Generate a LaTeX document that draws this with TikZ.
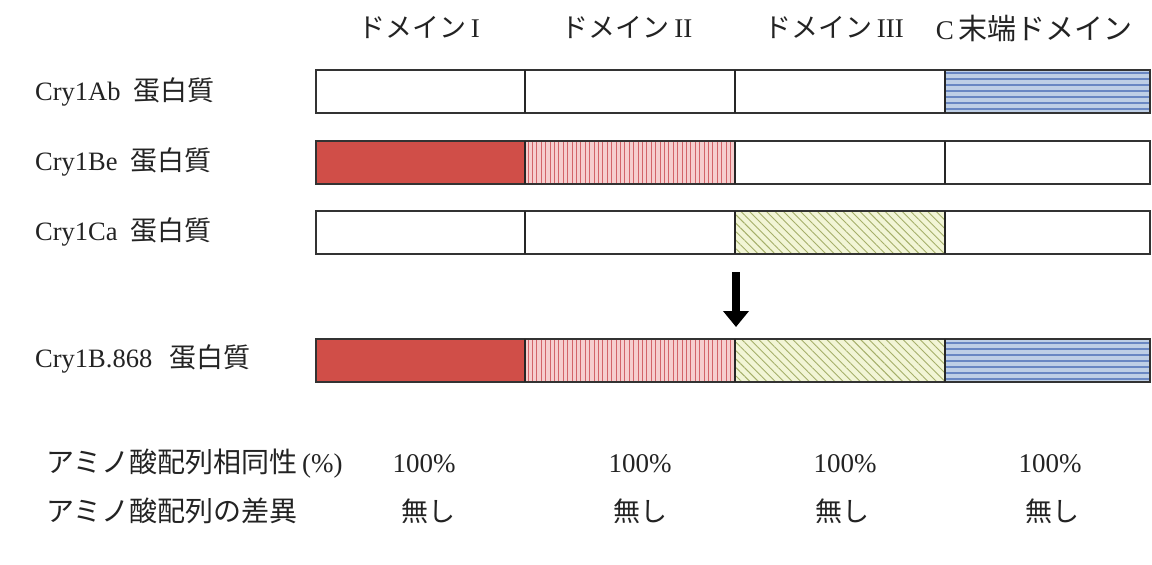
\documentclass[tikz,border=0pt]{standalone}
\usepackage{fontspec}
\setmainfont{Liberation Serif}
\newfontfamily\jp{Noto Sans CJK JP}
\usetikzlibrary{patterns.meta,arrows.meta}
\definecolor{redsolid}{RGB}{208,78,72}
\definecolor{pinkbg}{RGB}{246,206,206}
\definecolor{pinkline}{RGB}{210,100,105}
\definecolor{greenbg}{RGB}{242,245,214}
\definecolor{greenline}{RGB}{165,175,105}
\definecolor{bluebg}{RGB}{190,207,230}
\definecolor{blueline}{RGB}{105,135,195}
\definecolor{textc}{RGB}{35,35,35}
\newcommand{\jpl}[1]{{\fontsize{27}{30}\selectfont\jp #1}}
\begin{document}
\begin{tikzpicture}[x=1pt,y=-1pt,
  seg/.style={draw=black!80, line width=1.3pt, minimum width=#1, minimum height=43pt,
    inner sep=0pt, outer sep=0pt, anchor=north west},
  plain/.style={fill=white},
  solidred/.style={fill=redsolid},
  vlines/.style={preaction={fill=pinkbg}, pattern={Lines[angle=90,distance=4.4pt,line width=0.9pt]}, pattern color=pinkline},
  dlines/.style={preaction={fill=greenbg}, pattern={Lines[angle=-45,distance=6pt,line width=0.9pt]}, pattern color=greenline},
  hlines/.style={preaction={fill=bluebg}, pattern={Lines[angle=0,distance=6pt,line width=1.1pt]}, pattern color=blueline},
  divider/.style={draw=black!85, line width=2.4pt},
  head/.style={font=\fontsize{27}{30}\selectfont, text=textc, inner sep=0pt},
  rowlab/.style={font=\fontsize{26.5}{29}\selectfont, text=textc, anchor=west, inner sep=0pt},
  bottom/.style={font=\fontsize{27}{30}\selectfont, text=textc, inner sep=0pt},
  bigarrow/.style={line width=8pt, -{Triangle[width=25pt,length=16pt]}}
]
\useasboundingbox[fill=white] (0,0) rectangle (1152,565);

% headers
\node[head] (h1) at (419,28) {{\jp ドメイン}\,I};
\node[head] (h2) at (627,28) {{\jp ドメイン}\,II};
\node[head] (h3) at (834,28) {{\jp ドメイン}\,III};
\node[head] (h4) at (1034,28) {C\,{\fontsize{29}{30}\selectfont\jp 末端ドメイン}};

% row labels
\node[rowlab] (l1) at (35,92) {Cry1Ab\hspace{13pt}\jpl{蛋白質}};
\node[rowlab] (l2) at (35,162) {Cry1Be\hspace{13pt}\jpl{蛋白質}};
\node[rowlab] (l3) at (35,232) {Cry1Ca\hspace{13pt}\jpl{蛋白質}};
\node[rowlab] (l4) at (35,359) {Cry1B.868\hspace{17pt}\jpl{蛋白質}};

% row 1: Cry1Ab
\node[seg=209, plain] (a1) at (316,70) {};
\node[seg=210, plain] (a2) at (525,70) {};
\node[seg=210, plain] (a3) at (735,70) {};
\node[seg=205, hlines] (a4) at (945,70) {};
% row 2: Cry1Be
\node[seg=209, solidred] (b1) at (316,141) {};
\node[seg=210, vlines] (b2) at (525,141) {};
\node[seg=210, plain] (b3) at (735,141) {};
\node[seg=205, plain] (b4) at (945,141) {};
% row 3: Cry1Ca
\node[seg=209, plain] (c1) at (316,211) {};
\node[seg=210, plain] (c2) at (525,211) {};
\node[seg=210, dlines] (c3) at (735,211) {};
\node[seg=205, plain] (c4) at (945,211) {};
% row 4: Cry1B.868
\node[seg=209, solidred] (d1) at (316,339) {};
\node[seg=210, vlines] (d2) at (525,339) {};
\node[seg=210, dlines] (d3) at (735,339) {};
\node[seg=205, hlines] (d4) at (945,339) {};

% dividers
\foreach \r in {a,b,c,d}{
  \foreach \i in {1,2,3}{
    \draw[divider] (\r\i.north east) -- (\r\i.south east);
  }
}

% arrow
\coordinate (atop) at (736,272);
\coordinate (abot) at (736,327);
\draw[bigarrow] (atop) -- (abot);

% bottom rows
\node[bottom, anchor=west] (s1) at (46,464) {{\fontsize{28}{30}\selectfont\jp アミノ酸配列相同性}\,(\%)};
\node[bottom, anchor=west] (s2) at (46,511) {{\fontsize{28}{30}\selectfont\jp アミノ酸配列の差異}};
\node[bottom] (p1) at (424,464) {100\%};
\node[bottom] (p2) at (640,464) {100\%};
\node[bottom] (p3) at (845,464) {100\%};
\node[bottom] (p4) at (1050,464) {100\%};
\node[bottom] (n1) at (428,511) {\jp 無し};
\node[bottom] (n2) at (640,511) {\jp 無し};
\node[bottom] (n3) at (842,511) {\jp 無し};
\node[bottom] (n4) at (1052,511) {\jp 無し};
\end{tikzpicture}
\end{document}
